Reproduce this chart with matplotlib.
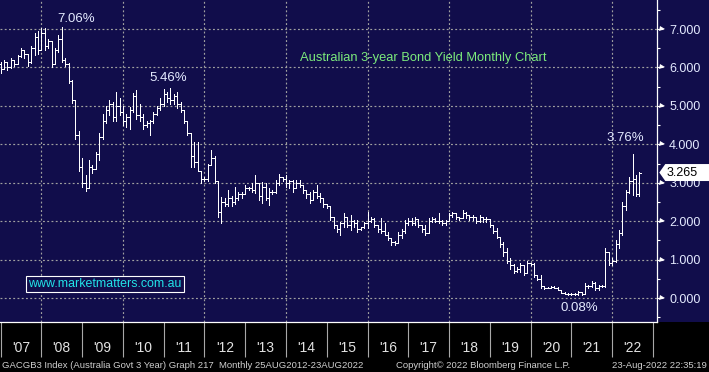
import matplotlib
matplotlib.use("Agg")
import matplotlib.pyplot as plt
import numpy as np
import pandas as pd
from matplotlib.collections import LineCollection
from matplotlib.patches import Polygon, Rectangle

# monthly bars, plotted at month end: Dec 2006 .. Aug 2022
months = pd.date_range("2006-12-31", "2022-08-31", freq="ME")

opens = [
    6.10,
    5.95, 6.15, 6.00, 6.20, 6.10, 6.30, 6.45, 6.35, 6.15, 6.50, 6.80, 6.45,
    6.90, 6.55, 6.70, 6.10, 6.45, 6.75, 6.20, 6.10, 5.65, 5.15, 4.25, 3.40,
    3.00, 2.85, 3.40, 3.35, 3.75, 4.20, 4.60, 4.90, 5.05, 4.70, 5.00, 4.85,
    4.60, 4.70, 4.90, 5.25, 4.75, 4.70, 4.50, 4.55, 4.60, 4.80, 4.95, 5.05,
    5.30, 5.20, 5.15, 5.25, 5.05, 4.90, 4.60, 4.30, 3.70, 3.55, 3.30, 3.10,
    3.10, 3.45, 3.65, 3.05, 2.25, 2.50, 2.45, 2.60, 2.50, 2.60, 2.70, 2.70,
    2.85, 2.85, 2.80, 3.00, 2.65, 2.90, 2.60, 2.75, 2.75, 3.00, 3.15, 3.10,
    3.00, 3.05, 2.85, 3.00, 2.95, 2.80, 2.70, 2.55, 2.75, 2.65, 2.60, 2.45,
    2.40, 2.10, 1.90, 1.80, 1.95, 2.10, 1.90, 2.00, 1.95, 1.80, 1.85, 1.95,
    2.00, 2.05, 1.90, 1.80, 1.75, 1.65, 1.55, 1.45, 1.42, 1.65, 1.75, 1.95,
    2.00, 1.95, 2.05, 1.90, 1.80, 1.70, 2.00, 2.05, 2.00, 2.00, 1.95, 2.00,
    2.15, 2.20, 2.10, 2.08, 2.20, 2.15, 2.10, 2.10, 2.00, 2.10, 2.05, 2.05,
    1.90, 1.75, 1.60, 1.40, 1.20, 0.95, 0.85, 0.70, 0.75, 0.85, 0.65, 0.90,
    0.88, 0.60, 0.50, 0.30, 0.27, 0.27, 0.28, 0.27, 0.20, 0.14, 0.11, 0.10,
    0.11, 0.10, 0.15, 0.10, 0.30, 0.30, 0.40, 0.25, 0.30, 0.32, 1.20, 0.90,
    0.95, 1.40, 1.70, 2.40, 2.75, 3.05, 3.10, 2.70,
]
highs = [
    6.15,
    6.20, 6.15, 6.24, 6.20, 6.33, 6.50, 6.45, 6.35, 6.55, 6.90, 6.95, 7.03,
    7.02, 6.75, 6.70, 6.50, 6.85, 7.06, 6.25, 6.12, 5.67, 5.15, 4.35, 3.65,
    3.20, 3.60, 3.45, 3.80, 4.30, 4.80, 5.00, 5.15, 5.10, 5.35, 5.20, 5.00,
    4.80, 4.97, 5.34, 5.42, 5.05, 4.80, 4.60, 4.64, 4.85, 5.00, 5.20, 5.45,
    5.35, 5.46, 5.30, 5.35, 5.10, 4.90, 4.60, 4.30, 4.05, 4.05, 3.30, 3.15,
    3.50, 3.85, 3.70, 3.05, 2.63, 2.60, 2.80, 2.65, 2.90, 2.75, 2.75, 2.94,
    2.90, 3.00, 3.20, 3.00, 3.03, 3.00, 2.86, 2.80, 3.07, 3.23, 3.15, 3.20,
    3.07, 3.07, 3.07, 3.07, 2.95, 2.80, 2.76, 2.81, 2.94, 2.73, 2.60, 2.45,
    2.40, 2.10, 1.90, 1.98, 2.21, 2.12, 2.16, 2.03, 2.03, 1.86, 1.98, 2.24,
    2.12, 2.07, 1.90, 2.07, 1.94, 1.72, 1.55, 1.48, 1.73, 1.80, 2.03, 2.08,
    2.08, 2.12, 2.05, 1.90, 1.90, 2.08, 2.12, 2.08, 2.22, 2.03, 2.03, 2.20,
    2.25, 2.20, 2.12, 2.29, 2.25, 2.16, 2.16, 2.12, 2.16, 2.12, 2.12, 2.05,
    1.90, 1.82, 1.60, 1.45, 1.30, 1.05, 0.88, 0.80, 0.91, 0.86, 0.95, 0.92,
    0.91, 0.60, 0.60, 0.30, 0.29, 0.30, 0.30, 0.28, 0.20, 0.15, 0.12, 0.12,
    0.12, 0.18, 0.15, 0.38, 0.34, 0.45, 0.42, 0.35, 0.34, 1.30, 1.20, 1.04,
    1.51, 1.77, 2.51, 2.80, 3.16, 3.76, 3.20, 3.29,
]
lows = [
    5.86,
    5.95, 5.94, 5.98, 6.05, 6.10, 6.28, 6.25, 6.05, 6.12, 6.33, 6.35, 6.45,
    6.45, 6.50, 6.00, 6.10, 6.40, 6.15, 6.05, 5.60, 5.07, 4.15, 3.30, 2.90,
    2.78, 2.85, 3.25, 3.35, 3.60, 4.15, 4.55, 4.77, 4.60, 4.60, 4.75, 4.50,
    4.45, 4.40, 4.85, 4.65, 4.60, 4.40, 4.45, 4.25, 4.55, 4.75, 4.90, 5.00,
    5.10, 5.05, 5.05, 4.95, 4.85, 4.55, 4.25, 3.40, 3.40, 3.30, 3.00, 3.05,
    3.05, 3.45, 3.00, 2.10, 1.95, 2.40, 2.40, 2.40, 2.45, 2.55, 2.60, 2.70,
    2.80, 2.75, 2.73, 2.55, 2.47, 2.55, 2.42, 2.70, 2.73, 2.94, 3.05, 2.90,
    2.85, 2.77, 2.85, 2.90, 2.73, 2.60, 2.47, 2.55, 2.60, 2.51, 2.38, 2.33,
    2.03, 1.82, 1.72, 1.64, 1.86, 1.86, 1.77, 1.86, 1.72, 1.77, 1.82, 1.82,
    1.98, 1.86, 1.72, 1.69, 1.64, 1.51, 1.38, 1.38, 1.42, 1.56, 1.69, 1.90,
    1.90, 1.90, 1.86, 1.73, 1.64, 1.70, 1.99, 1.99, 1.94, 1.90, 1.90, 2.00,
    2.12, 2.05, 2.03, 2.08, 2.08, 2.03, 2.03, 1.94, 1.99, 1.99, 1.99, 1.86,
    1.68, 1.55, 1.33, 1.10, 0.90, 0.75, 0.65, 0.68, 0.68, 0.60, 0.65, 0.85,
    0.55, 0.47, 0.26, 0.24, 0.25, 0.25, 0.25, 0.20, 0.12, 0.10, 0.08, 0.09,
    0.09, 0.08, 0.09, 0.10, 0.26, 0.28, 0.22, 0.21, 0.28, 0.29, 0.86, 0.86,
    0.94, 1.30, 1.65, 2.30, 2.73, 2.68, 2.66, 2.66,
]
closes = [
    5.95,
    6.15, 6.00, 6.20, 6.10, 6.30, 6.45, 6.35, 6.15, 6.50, 6.80, 6.45, 6.90,
    6.55, 6.70, 6.10, 6.45, 6.75, 6.20, 6.10, 5.65, 5.15, 4.25, 3.40, 3.00,
    2.85, 3.40, 3.35, 3.75, 4.20, 4.60, 4.90, 5.05, 4.70, 5.00, 4.85, 4.60,
    4.70, 4.90, 5.25, 4.75, 4.70, 4.50, 4.55, 4.60, 4.80, 4.95, 5.05, 5.30,
    5.20, 5.15, 5.25, 5.05, 4.90, 4.60, 4.30, 3.70, 3.55, 3.30, 3.10, 3.10,
    3.45, 3.65, 3.05, 2.25, 2.50, 2.45, 2.60, 2.50, 2.60, 2.70, 2.70, 2.85,
    2.85, 2.80, 3.00, 2.65, 2.90, 2.60, 2.75, 2.75, 3.00, 3.15, 3.10, 3.00,
    3.05, 2.85, 3.00, 2.95, 2.80, 2.70, 2.55, 2.75, 2.65, 2.60, 2.45, 2.40,
    2.10, 1.90, 1.80, 1.95, 2.10, 1.90, 2.00, 1.95, 1.80, 1.85, 1.95, 2.00,
    2.05, 1.90, 1.80, 1.75, 1.65, 1.55, 1.45, 1.42, 1.65, 1.75, 1.95, 2.00,
    1.95, 2.05, 1.90, 1.80, 1.70, 2.00, 2.05, 2.00, 2.00, 1.95, 2.00, 2.15,
    2.20, 2.10, 2.08, 2.20, 2.15, 2.10, 2.10, 2.00, 2.10, 2.05, 2.05, 1.90,
    1.75, 1.60, 1.40, 1.20, 0.95, 0.85, 0.70, 0.75, 0.85, 0.65, 0.90, 0.88,
    0.60, 0.50, 0.30, 0.27, 0.27, 0.28, 0.27, 0.20, 0.14, 0.11, 0.10, 0.11,
    0.10, 0.15, 0.10, 0.30, 0.30, 0.40, 0.25, 0.30, 0.32, 1.20, 0.90, 0.95,
    1.40, 1.70, 2.40, 2.75, 3.05, 3.10, 2.70, 3.265,
]

year_labels = ["'07", "'08", "'09", "'10", "'11", "'12", "'13", "'14",
               "'15", "'16", "'17", "'18", "'19", "'20", "'21", "'22"]
label_years = list(range(2007, 2023))
grid_years = [2008, 2010, 2012, 2014, 2016, 2018, 2020, 2022]
y_ticks = [0, 1, 2, 3, 4, 5, 6, 7]
last_value = 3.265

NAVY = "#110D4B"
LABEL = "#E4EAFF"
FONT = "Liberation Sans"

W, H = 709, 372
AX_W, AX_H, STRIP = 657.3, 322, 50


def main() -> None:
    fig = plt.figure(figsize=(W / 100, H / 100), dpi=100)
    fig.patch.set_facecolor("black")
    fig.add_artist(Rectangle((0, STRIP / H), 1, AX_H / H, transform=fig.transFigure,
                             facecolor=NAVY, edgecolor="none", zorder=-5))
    ax = fig.add_axes([0, STRIP / H, AX_W / W, AX_H / H])
    ax.set_facecolor(NAVY)

    ax.set_xlim(2007 - 0.6 / 40.77, 2007 + 656.7 / 40.77)
    ax.set_ylim(-0.6245, 7.755)

    # dotted grid
    dots = dict(color="#A0A0A0", lw=0.85, ls=(0, (1.6, 2.0)), zorder=1)
    for v in y_ticks:
        ax.axhline(v, **dots)
    for yr in grid_years:
        ax.axvline(yr, **dots)

    # OHLC bars
    x = months.year + months.month / 12.0
    t = 0.04
    segs = []
    for xi, o, h, l, c in zip(x, opens, highs, lows, closes):
        segs.append([(xi, l), (xi, h)])
        segs.append([(xi - t, o), (xi, o)])
        segs.append([(xi, c), (xi + t, c)])
    ax.add_collection(LineCollection(segs, colors="white", linewidths=0.7,
                                     antialiaseds=False, zorder=3))

    # spines
    for side in ("top", "left"):
        ax.spines[side].set_visible(False)
    for side in ("right", "bottom"):
        ax.spines[side].set_color("white")
        ax.spines[side].set_linewidth(0.9)

    # right axis
    ax.yaxis.tick_right()
    ax.set_yticks(y_ticks)
    ax.set_yticklabels([f"{v:.3f}" for v in y_ticks], fontfamily=FONT,
                       fontsize=9, color=LABEL)
    ax.set_yticks(np.arange(-0.5, 8, 1), minor=True)
    ax.tick_params(axis="y", which="major", direction="out", length=4,
                   width=0.8, color="white", pad=4.5)
    ax.tick_params(axis="y", which="minor", direction="out", length=2.5,
                   width=0.8, color="white")
    ax.plot([1 + 5.2 / AX_W] * len(y_ticks), y_ticks, ls="none", marker=">",
            ms=3.6, mfc="white", mec="white", mew=0,
            transform=ax.get_yaxis_transform(), clip_on=False, zorder=4)

    # year separators on the bottom strip
    ax.set_xticks(range(2007, 2024))
    ax.set_xticklabels([])
    ax.tick_params(axis="x", which="major", direction="out", length=25.2,
                   width=0.8, color="#A8A8A8")
    for yr, lab in zip(label_years, year_labels):
        ax.text(yr + 0.5, -26.5 / AX_H, lab, transform=ax.get_xaxis_transform(),
                ha="center", va="center", fontsize=10, family=FONT, color="#E2E2E2")

    # last price box
    dy = 8.5 / 38.43
    ytr = ax.get_yaxis_transform()
    box = Polygon([(1 + 2 / AX_W, last_value), (1 + 8 / AX_W, last_value + dy),
                   (1 + 60 / AX_W, last_value + dy), (1 + 60 / AX_W, last_value - dy),
                   (1 + 8 / AX_W, last_value - dy)], closed=True, transform=ytr,
                  facecolor="white", edgecolor="none", clip_on=False, zorder=6)
    ax.add_patch(box)
    ax.text(1 + 9.5 / AX_W, last_value, f"{last_value:.3f}", transform=ytr,
            ha="left", va="center", fontsize=9, family=FONT, color="black",
            zorder=7, clip_on=False)

    # callouts
    for txt, xv, yv in [("7.06%", 2008.85, 7.27), ("5.46%", 2011.11, 5.73),
                        ("3.76%", 2022.33, 4.17), ("0.08%", 2021.19, -0.25)]:
        ax.text(xv, yv, txt, ha="center", va="center", fontsize=9.5,
                family=FONT, color=LABEL, zorder=5)

    ax.text(423.5 / AX_W, (AX_H - 58) / AX_H, "Australian 3-year Bond Yield Monthly Chart",
            transform=ax.transAxes, ha="center", va="center", fontsize=9.3,
            family=FONT, color="#7CEB7C", zorder=5)

    ax.text(28.5 / AX_W, (AX_H - 284) / AX_H, "www.marketmatters.com.au",
            transform=ax.transAxes, ha="left", va="center", fontsize=8.9,
            family=FONT, color="#22E3E8", zorder=5,
            bbox=dict(boxstyle="square,pad=0.2", facecolor=NAVY,
                      edgecolor="white", linewidth=0.8))

    # footer
    fy = (H - 365) / H
    foot = dict(fontsize=6.8, family=FONT, color="#CFCFCF", va="center")
    fig.text(2 / W, fy, "GACGB3 Index (Australia Govt 3 Year) Graph 217  "
             "Monthly 25AUG2012-23AUG2022", ha="left", **foot)
    fig.text(396 / W, fy, "Copyright\u00a9 2022 Bloomberg Finance L.P.", ha="left", **foot)
    fig.text(707 / W, fy, "23-Aug-2022 22:35:19", ha="right", **foot)

    fig.savefig("out.png", dpi=100, facecolor=fig.get_facecolor())
    plt.close(fig)


if __name__ == "__main__":
    main()
